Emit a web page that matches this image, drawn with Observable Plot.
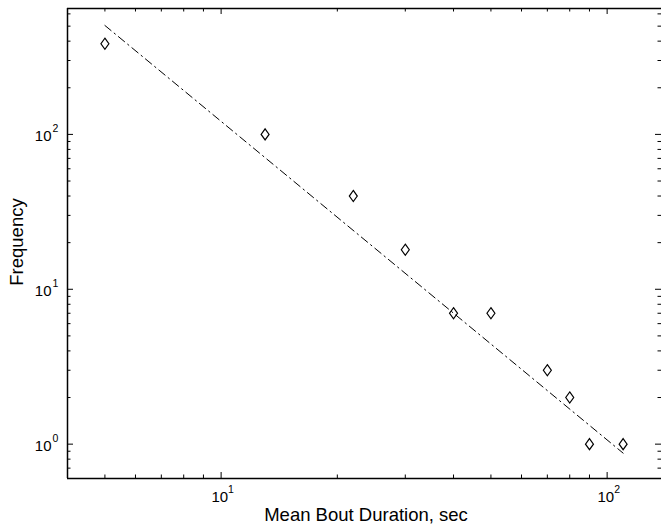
<!DOCTYPE html>
<html>
<head>
<meta charset="utf-8">
<script src="https://cdn.jsdelivr.net/npm/d3@7"></script>
<script src="https://cdn.jsdelivr.net/npm/@observablehq/plot@0.6"></script>
<style>
  html, body { margin: 0; padding: 0; background: #fff; }
  #chart { width: 661px; height: 527px; overflow: hidden; }
</style>
</head>
<body>
<div id="chart"></div>
<script>
// Data
const duration = [5, 13, 22, 30, 40, 50, 70, 80, 90, 110];
const frequency = [385, 100, 40, 18, 7, 7, 3, 2, 1, 1];
const fitDuration = [5, 110];
const fitFrequency = [505, 0.875];

// Axes
const xDomain = [4, 138.3];
const yDomain = [0.6, 650];
const xMajor = [10, 100];
const xMinor = [4, 5, 6, 7, 8, 9, 20, 30, 40, 50, 60, 70, 80, 90];
const yMajor = [1, 10, 100];
const yMinor = [0.6, 0.7, 0.8, 0.9, 2, 3, 4, 5, 6, 7, 8, 9, 20, 30, 40, 50, 60, 70, 80, 90, 200, 300, 400, 500, 600];
const xTickBase = ["10", "10"];
const xTickExp = ["1", "2"];
const yTickBase = ["10", "10", "10"];
const yTickExp = ["0", "1", "2"];
const xLabel = "Mean Bout Duration, sec";
const yLabel = "Frequency";

const points = duration.map((d, i) => ({duration: d, frequency: frequency[i]}));
const fit = fitDuration.map((d, i) => ({duration: d, frequency: fitFrequency[i]}));
const xTicks = xMajor.map((v, i) => ({v, base: xTickBase[i], exp: xTickExp[i]}));
const yTicks = yMajor.map((v, i) => ({v, base: yTickBase[i], exp: yTickExp[i]}));

const W = 661, H = 527, ML = 67, MR = 0, MT = 8, MB = 49;
const FW = W - ML - MR, FH = H - MT - MB;
const major = 6, minor = 3.5;

const diamond = {
  draw(context, size) {
    const s = Math.sqrt(size / Math.PI);
    const hw = s * 0.75, hh = s * 1.05;
    context.moveTo(0, -hh);
    context.lineTo(hw, 0);
    context.lineTo(0, hh);
    context.lineTo(-hw, 0);
    context.closePath();
  }
};

const font = "'Liberation Sans', Arial, Helvetica, sans-serif";

const chart = Plot.plot({
  width: W, height: H,
  marginLeft: ML, marginRight: MR, marginTop: MT, marginBottom: MB,
  x: {type: "log", domain: xDomain, axis: null},
  y: {type: "log", domain: yDomain, axis: null},
  style: {fontFamily: font, background: "#fff", color: "#000"},
  marks: [
    // ticks: bottom
    Plot.tickX(xMajor, {x: d => d, insetTop: FH - major, stroke: "#000", strokeWidth: 1}),
    Plot.tickX(xMinor, {x: d => d, insetTop: FH - minor, stroke: "#000", strokeWidth: 1}),
    // ticks: top
    Plot.tickX(xMajor, {x: d => d, insetBottom: FH - major, stroke: "#000", strokeWidth: 1}),
    Plot.tickX(xMinor, {x: d => d, insetBottom: FH - minor, stroke: "#000", strokeWidth: 1}),
    // ticks: left
    Plot.tickY(yMajor, {y: d => d, insetRight: FW - major, stroke: "#000", strokeWidth: 1}),
    Plot.tickY(yMinor, {y: d => d, insetRight: FW - minor, stroke: "#000", strokeWidth: 1}),
    // ticks: right
    Plot.tickY(yMajor, {y: d => d, insetLeft: FW - major, stroke: "#000", strokeWidth: 1}),
    Plot.tickY(yMinor, {y: d => d, insetLeft: FW - minor, stroke: "#000", strokeWidth: 1}),
    // axis lines
    Plot.ruleX([xDomain[0]], {stroke: "#000", strokeWidth: 1.5}),
    Plot.ruleY([yDomain[0], yDomain[1]], {stroke: "#000", strokeWidth: 1.5}),
    // x tick labels
    Plot.text(xTicks, {x: "v", text: "base", frameAnchor: "bottom", lineAnchor: "bottom", textAnchor: "end", dx: 7, dy: 23, fontSize: 15, fill: "#000"}),
    Plot.text(xTicks, {x: "v", text: "exp", frameAnchor: "bottom", lineAnchor: "bottom", textAnchor: "start", dx: 7, dy: 14, fontSize: 10.5, fill: "#000"}),
    // y tick labels
    Plot.text(yTicks, {y: "v", text: "base", frameAnchor: "left", lineAnchor: "bottom", textAnchor: "end", dx: -16, dy: 7, fontSize: 15, fill: "#000"}),
    Plot.text(yTicks, {y: "v", text: "exp", frameAnchor: "left", lineAnchor: "bottom", textAnchor: "start", dx: -15, dy: -2, fontSize: 10.5, fill: "#000"}),
    // axis labels
    Plot.text([xLabel], {text: d => d, frameAnchor: "bottom", lineAnchor: "bottom", textAnchor: "middle", dx: 1.5, dy: 42.5, fontSize: 18.5, fill: "#000"}),
    Plot.text([yLabel], {text: d => d, frameAnchor: "left", lineAnchor: "middle", textAnchor: "middle", rotate: -90, dx: -50, dy: -1.5, fontSize: 18.5, fill: "#000"}),
    // fit line
    Plot.line(fit, {x: "duration", y: "frequency", stroke: "#000", strokeWidth: 1, strokeDasharray: "8,4,1.5,4"}),
    // data points
    Plot.dot(points, {x: "duration", y: "frequency", symbol: diamond, r: 5.3, stroke: "#000", fill: "none", strokeWidth: 1.2})
  ]
});

document.getElementById("chart").appendChild(chart);
</script>
</body>
</html>
